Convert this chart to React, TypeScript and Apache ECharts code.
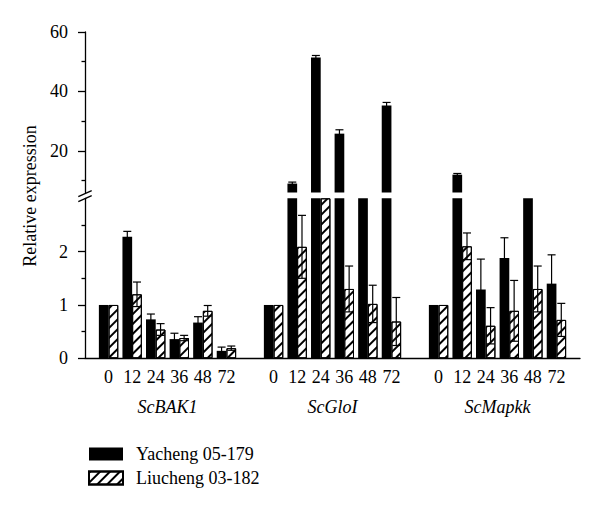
import React, { useEffect, useRef } from "react";
import * as echarts from "echarts";

const timePoints = ["0", "12", "24", "36", "48", "72"];
const genes = ["ScBAK1", "ScGloI", "ScMapkk"];
const seriesNames = ["Yacheng 05-179", "Liucheng 03-182"];

// values per gene (6 time points each), in order ScBAK1, ScGloI, ScMapkk
const yachengValues = [
  1.0, 2.28, 0.73, 0.36, 0.67, 0.14,
  1.0, 9.0, 51.4, 25.8, 5.0, 35.3,
  1.0, 12.0, 1.29, 1.88, 5.0, 1.4,
];
const yachengErrors = [
  0, 0.1, 0.1, 0.11, 0.11, 0.07,
  0, 0.5, 0.7, 1.3, 0.3, 1.0,
  0, 0.4, 0.57, 0.38, 0.3, 0.54,
];
const liuchengValues = [
  1.0, 1.2, 0.54, 0.38, 0.89, 0.19,
  1.0, 2.09, 5.0, 1.3, 1.02, 0.69,
  1.0, 2.1, 0.61, 0.89, 1.3, 0.72,
];
const liuchengErrors = [
  0, 0.23, 0.11, 0.05, 0.1, 0.04,
  0, 0.59, 0.3, 0.43, 0.35, 0.45,
  0, 0.25, 0.34, 0.57, 0.43, 0.31,
];

const lowerTicks = [0, 1, 2];
const lowerMinorTicks = [0.5, 1.5, 2.5];
const upperTicks = [20, 40, 60];
const upperMinorTicks = [10, 30, 50];

const LOWER_MAX = 3;
const UPPER_MIN = 6;
const UPPER_MAX = 60;
const BAR_W = 9.7;
const FONT = "'Liberation Serif', 'DejaVu Serif', serif";

const slotOf = (i: number) => Math.floor(i / 6) * 7 + (i % 6);
const labelAt = (v: number) => {
  const r = Math.round(v);
  if (Math.abs(v - r) > 1e-6 || r < 0) return "";
  const g = Math.floor(r / 7);
  const t = r % 7;
  if (t > 5 || g > 2) return "";
  return timePoints[t];
};
const geneAt = (v: number) => {
  for (let g = 0; g < genes.length; g++) {
    if (Math.abs(v - (g * 7 + 2.5)) < 1e-6) return genes[g];
  }
  return "";
};

const hatch = {
  symbol: "rect",
  symbolSize: 1,
  color: "#000",
  backgroundColor: "#fff",
  dashArrayX: [1, 0],
  dashArrayY: [1.3, 4.5],
  rotation: -Math.PI / 4,
};

export default function App() {
  const ref = useRef<HTMLDivElement>(null);
  useEffect(() => {
    if (!ref.current) return;
    const chart = echarts.init(ref.current, null, { renderer: "svg" });

    const lowerBlack = yachengValues.map((v, i) => [slotOf(i), Math.min(v, LOWER_MAX)]);
    const lowerHatch = liuchengValues.map((v, i) => [slotOf(i), Math.min(v, LOWER_MAX)]);
    const upperBlack = yachengValues.map((v, i) => [slotOf(i), v > UPPER_MIN ? v : "-"]);
    const upperHatch = liuchengValues.map((v, i) => [slotOf(i), v > UPPER_MIN ? v : "-"]);

    const errLower: any[] = [];
    const errUpper: any[] = [];
    const addErr = (vals: number[], errs: number[], side: number) => {
      vals.forEach((v, i) => {
        if (!(errs[i] > 0)) return;
        const d = [slotOf(i), v, errs[i], side];
        if (v <= LOWER_MAX) errLower.push(d);
        else if (v > UPPER_MIN) errUpper.push(d);
      });
    };
    addErr(yachengValues, yachengErrors, -1);
    addErr(liuchengValues, liuchengErrors, 1);

    const renderErr = (params: any, api: any) => {
      const x = api.value(0);
      const y = api.value(1);
      const e = api.value(2);
      const side = api.value(3);
      const top = api.coord([x, y + e]);
      const bot = api.coord([x, y - e]);
      const cx = top[0] + (side * BAR_W) / 2;
      const hw = 4;
      const st = { stroke: "#000", lineWidth: 1.2 };
      return {
        type: "group",
        children: [
          { type: "line", shape: { x1: cx, y1: top[1], x2: cx, y2: bot[1] }, style: st },
          { type: "line", shape: { x1: cx - hw, y1: top[1], x2: cx + hw, y2: top[1] }, style: st },
          { type: "line", shape: { x1: cx - hw, y1: bot[1], x2: cx + hw, y2: bot[1] }, style: st },
        ],
      };
    };

    const axisLineStyle = { color: "#000", width: 1.3 };
    const labelStyle = { color: "#000", fontFamily: FONT, fontSize: 18 };

    chart.setOption({
      animation: false,
      textStyle: { fontFamily: FONT },
      grid: [
        { left: 85, right: 20, top: 198.3, bottom: 151.7 },
        { left: 85, right: 20, top: 32, bottom: 317.5 },
      ],
      xAxis: [
        {
          type: "value", gridIndex: 0, position: "bottom", min: -1, max: 20, interval: 1,
          axisLine: { show: true, onZero: false, lineStyle: axisLineStyle },
          axisTick: { show: false }, splitLine: { show: false },
          axisLabel: { ...labelStyle, margin: 10, formatter: (v: number) => labelAt(v) },
        },
        {
          type: "value", gridIndex: 0, position: "bottom", min: -1, max: 20, interval: 0.5,
          axisLine: { show: false, onZero: false }, axisTick: { show: false }, splitLine: { show: false },
          axisLabel: { ...labelStyle, fontStyle: "italic", margin: 40, formatter: (v: number) => geneAt(v) },
        },
        {
          type: "value", gridIndex: 1, position: "bottom", min: -1, max: 20, interval: 1,
          show: false, axisLine: { onZero: false },
        },
      ],
      yAxis: [
        {
          type: "value", gridIndex: 0, position: "left", min: 0, max: LOWER_MAX, interval: 1,
          axisLine: { show: true, onZero: false, lineStyle: axisLineStyle },
          axisTick: { show: true, length: 7, lineStyle: axisLineStyle, customValues: lowerTicks },
          axisLabel: { ...labelStyle, margin: 17, customValues: lowerTicks },
          splitLine: { show: false },
        },
        {
          type: "value", gridIndex: 0, position: "left", min: 0, max: LOWER_MAX, interval: 1,
          axisLine: { show: false, onZero: false },
          axisTick: { show: true, length: 3.5, lineStyle: axisLineStyle, customValues: lowerMinorTicks },
          axisLabel: { show: false },
          splitLine: { show: false },
        },
        {
          type: "value", gridIndex: 1, position: "left", min: UPPER_MIN, max: UPPER_MAX,
          axisLine: { show: true, onZero: false, lineStyle: axisLineStyle },
          axisTick: { show: true, length: 7, lineStyle: axisLineStyle, customValues: upperTicks },
          axisLabel: { ...labelStyle, margin: 17, customValues: upperTicks },
          splitLine: { show: false },
        },
        {
          type: "value", gridIndex: 1, position: "left", min: UPPER_MIN, max: UPPER_MAX,
          axisLine: { show: false, onZero: false },
          axisTick: { show: true, length: 3.5, lineStyle: axisLineStyle, customValues: upperMinorTicks },
          axisLabel: { show: false },
          splitLine: { show: false },
        },
      ],
      legend: {
        data: seriesNames,
        orient: "vertical",
        left: 83,
        top: 440,
        icon: "rect",
        itemWidth: 34,
        itemHeight: 13,
        itemGap: 6,
        textStyle: { color: "#000", fontFamily: FONT, fontSize: 18, padding: [0, 0, 0, 8] },
      },
      graphic: [
        {
          type: "text", x: 30, y: 196, rotation: Math.PI / 2,
          style: { text: "Relative expression", fill: "#000", font: `18px ${FONT}`, textAlign: "center", textVerticalAlign: "middle" },
        },
        { type: "line", shape: { x1: 78.3, y1: 196.7, x2: 91.7, y2: 190.7 }, style: { stroke: "#000", lineWidth: 1.3 } },
        { type: "line", shape: { x1: 78.3, y1: 201.7, x2: 91.7, y2: 195.7 }, style: { stroke: "#000", lineWidth: 1.3 } },
      ],
      series: [
        {
          name: seriesNames[0], type: "bar", xAxisIndex: 0, yAxisIndex: 0, barWidth: BAR_W, barGap: "0%",
          itemStyle: { color: "#000" }, data: lowerBlack,
        },
        {
          name: seriesNames[1], type: "bar", xAxisIndex: 0, yAxisIndex: 0, barWidth: BAR_W, barGap: "0%",
          itemStyle: { color: "#fff", borderColor: "#000", borderWidth: 1, decal: hatch }, data: lowerHatch,
        },
        {
          name: seriesNames[0], type: "bar", xAxisIndex: 2, yAxisIndex: 2, barWidth: BAR_W, barGap: "0%",
          itemStyle: { color: "#000" }, data: upperBlack,
        },
        {
          name: seriesNames[1], type: "bar", xAxisIndex: 2, yAxisIndex: 2, barWidth: BAR_W, barGap: "0%",
          itemStyle: { color: "#fff", borderColor: "#000", borderWidth: 1, decal: hatch }, data: upperHatch,
        },
        { name: "errLower", type: "custom", xAxisIndex: 0, yAxisIndex: 0, renderItem: renderErr, data: errLower, z: 5 },
        { name: "errUpper", type: "custom", xAxisIndex: 2, yAxisIndex: 2, renderItem: renderErr, data: errUpper, z: 5 },
      ],
    });
    return () => chart.dispose();
  }, []);
  return <div ref={ref} style={{ width: 600, height: 510, position: "absolute", left: 0, top: 0 }} />;
}
